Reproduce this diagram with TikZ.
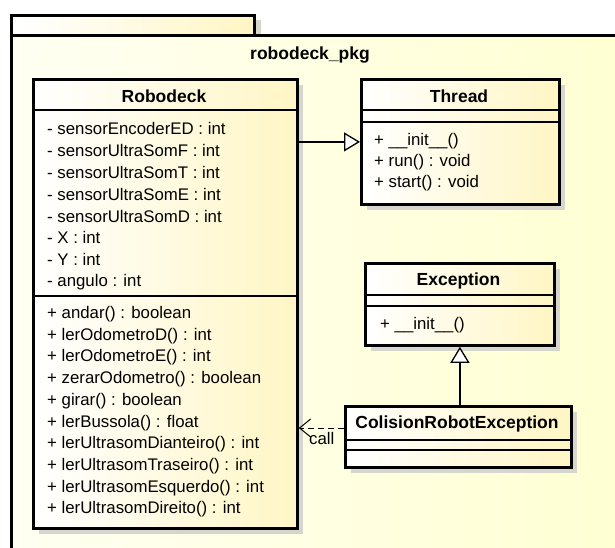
\documentclass[tikz,border=0pt]{standalone}
\usepackage{fontspec}
\setmainfont{Liberation Sans}
\usetikzlibrary{arrows.meta}
\definecolor{pkgL}{HTML}{FFFFF2}
\definecolor{pkgR}{HTML}{FFFFD2}
\definecolor{boxR}{HTML}{FFF6C4}
\definecolor{shadowc}{HTML}{D6D6CE}
\begin{document}
\begin{tikzpicture}[x=1pt,y=-1pt,
  frame/.style={draw=black, line width=2.8pt, left color=white, right color=boxR, anchor=north west, inner sep=0pt},
  shad/.style={fill=shadowc, draw=none},
  sepline/.style={line width=1.1pt},
  title/.style={font=\fontsize{17.5}{20}\selectfont\bfseries, inner sep=0pt},
  txt/.style={font=\fontsize{16.8}{19}\selectfont, anchor=west, inner sep=0pt},
  gen/.style={line width=1.3pt, -{Triangle[open, length=16pt, width=19pt, fill=white]}},
  dep/.style={line width=1pt, dash pattern=on 6pt off 4pt, -{Straight Barb[length=11pt, width=18pt]}}
]
\useasboundingbox (0,0) rectangle (615,548);
\clip (0,0) rectangle (615,548);
% package
\fill[shadowc] (253,20) rectangle (261,34);
\node[frame, left color=white, right color=boxR, minimum width=243pt, minimum height=20pt] (tab) at (10,14) {};
\node[frame, left color=pkgL, right color=pkgR, minimum width=620pt, minimum height=530pt] (pkg) at (10,34) {};
\node[title] (pkgname) at (310,55) {robodeck\_pkg};
% shadows
\fill[shad] (39,85) rectangle (303,534);
\fill[shad] (367,85) rectangle (565,210);
\fill[shad] (371,269) rectangle (560,351);
\fill[shad] (351,412) rectangle (577,473);
% Robodeck
\node[frame, minimum width=264pt, minimum height=449pt] (robo) at (32,78) {};
\node[title] (robot) at (164,96) {Robodeck};
\draw[sepline] (32,110) -- (296,110);
\draw[sepline] (32,296) -- (296,296);
\foreach \t [count=\i] in {- sensorEncoderED : int, - sensorUltraSomF : int, - sensorUltraSomT : int, - sensorUltraSomE : int, - sensorUltraSomD : int, - X : int, - Y : int, - angulo : int}
  \node[txt] (ra\i) at (47,{106.5+21.9*\i}) {\t};
\foreach \t [count=\i] in {+ andar() : boolean, + lerOdometroD() : int, + lerOdometroE() : int, + zerarOdometro() : boolean, + girar() : boolean, + lerBussola() : float, + lerUltrasomDianteiro() : int, + lerUltrasomTraseiro() : int, + lerUltrasomEsquerdo() : int, + lerUltrasomDireito() : int}
  \node[txt] (rm\i) at (47,{292.5+21.7*\i}) {\t};
% Thread
\node[frame, minimum width=198pt, minimum height=125pt] (thread) at (360,78) {};
\node[title] (threadt) at (459,96) {Thread};
\draw[sepline] (360,110) -- (558,110);
\draw[sepline] (360,122) -- (558,122);
\node[txt] (tm1) at (374,141) {+ \_\_init\_\_()};
\node[txt] (tm2) at (374,162) {+ run() : void};
\node[txt] (tm3) at (374,183) {+ start() : void};
% Exception
\node[frame, minimum width=189pt, minimum height=82pt] (exc) at (364,262) {};
\node[title] (exct) at (458.5,281) {Exception};
\draw[sepline] (364,295) -- (553,295);
\draw[sepline] (364,306) -- (553,306);
\node[txt] (em1) at (380,325) {+ \_\_init\_\_()};
% ColisionRobotException
\node[frame, minimum width=226pt, minimum height=61pt] (colis) at (344,405) {};
\node[title] (colist) at (457,424) {ColisionRobotException};
\draw[sepline] (344,440) -- (570,440);
\draw[sepline] (344,450) -- (570,450);
% connectors
\draw[gen] (robo.east |- thread.west) -- (thread.west);
\draw[gen] (colis.north -| exc.south) -- (exc.south);
\coordinate (dc) at (344,428);
\draw[dep] (colis.west |- dc) -- (robo.east |- dc);
\node[txt] (call) at (309,438) {call};
\end{tikzpicture}
\end{document}
